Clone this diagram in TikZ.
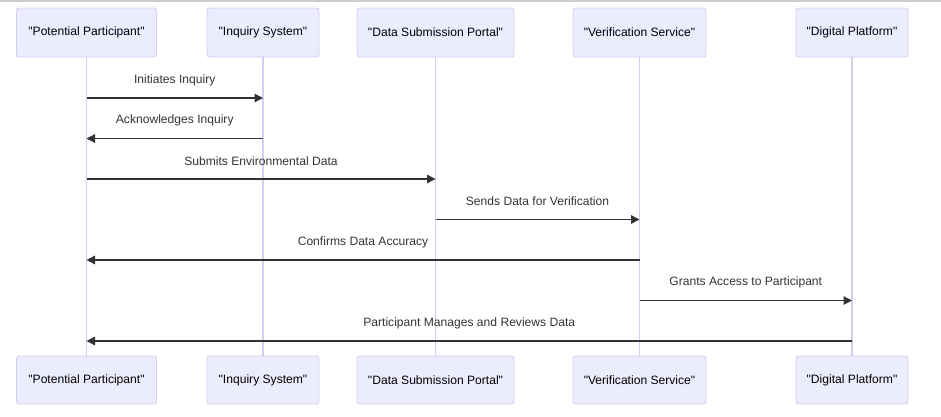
\documentclass[tikz,border=0pt]{standalone}
\usepackage{fontspec}
\setmainfont{Liberation Sans}[Ligatures=TeXOff]
\usetikzlibrary{arrows.meta}
\definecolor{actorfill}{HTML}{ECECFF}
\definecolor{actorline}{HTML}{D9CCF2}
\definecolor{msgcol}{HTML}{333333}
\begin{document}
\begin{tikzpicture}[x=1pt,y=-1pt]
\tikzset{acteur/.style={draw=actorline, fill=actorfill, rounded corners=2.5pt, line width=0.9pt, inner sep=0pt, font=\fontsize{12.1}{14}\selectfont, text=black},
vie/.style={draw=actorline, line width=1.4pt},
msg/.style={draw=msgcol, line width=1.3pt, -{Triangle[length=8.5pt,width=8.5pt]}},
etiq/.style={font=\fontsize{12.1}{14}\selectfont, text=msgcol, inner sep=0pt}}
\useasboundingbox (0,0) rectangle (941,416);
\fill[black!20] (0,0) rectangle (941,1.6);
\node[acteur, minimum width=140pt, minimum height=49pt] (A1) at (86.5,32.5) {"Potential Participant"};
\node[acteur, minimum width=112pt, minimum height=49pt] (A2) at (263,32.5) {"Inquiry System"};
\node[acteur, minimum width=157pt, minimum height=49pt] (A3) at (435.5,32.5) {"Data Submission Portal"};
\node[acteur, minimum width=133pt, minimum height=49pt] (A4) at (639.5,32.5) {"Verification Service"};
\node[acteur, minimum width=112pt, minimum height=49pt] (A5) at (852,32.5) {"Digital Platform"};
\node[acteur, minimum width=140pt, minimum height=48pt] (Z1) at (86.5,380) {"Potential Participant"};
\node[acteur, minimum width=112pt, minimum height=48pt] (Z2) at (263,380) {"Inquiry System"};
\node[acteur, minimum width=157pt, minimum height=48pt] (Z3) at (435.5,380) {"Data Submission Portal"};
\node[acteur, minimum width=133pt, minimum height=48pt] (Z4) at (639.5,380) {"Verification Service"};
\node[acteur, minimum width=112pt, minimum height=48pt] (Z5) at (852,380) {"Digital Platform"};
\draw[vie] (A1) -- (Z1);
\draw[vie] (A2) -- (Z2);
\draw[vie] (A3) -- (Z3);
\draw[vie] (A4) -- (Z4);
\draw[vie] (A5) -- (Z5);
\coordinate (M1) at (0,98);
\coordinate (M2) at (0,138.5);
\coordinate (M3) at (0,179);
\coordinate (M4) at (0,219.5);
\coordinate (M5) at (0,260);
\coordinate (M6) at (0,300.5);
\coordinate (M7) at (0,341);
\draw[msg] (A1 |- M1) -- (A2 |- M1) node[etiq, midway, yshift=18pt] {Initiates Inquiry};
\draw[msg] (A2 |- M2) -- (A1 |- M2) node[etiq, midway, yshift=18pt] {Acknowledges Inquiry};
\draw[msg] (A1 |- M3) -- (A3 |- M3) node[etiq, midway, yshift=18pt] {Submits Environmental Data};
\draw[msg] (A3 |- M4) -- (A4 |- M4) node[etiq, midway, yshift=18pt] {Sends Data for Verification};
\draw[msg] (A4 |- M5) -- (A1 |- M5) node[etiq, midway, yshift=18pt] {Confirms Data Accuracy};
\draw[msg] (A4 |- M6) -- (A5 |- M6) node[etiq, midway, yshift=18pt] {Grants Access to Participant};
\draw[msg] (A5 |- M7) -- (A1 |- M7) node[etiq, midway, yshift=18pt] {Participant Manages and Reviews Data};
\end{tikzpicture}
\end{document}
